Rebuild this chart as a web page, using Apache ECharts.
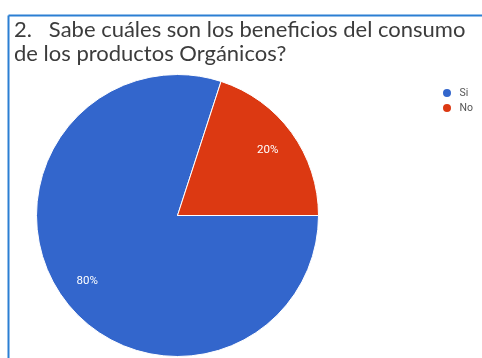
<!DOCTYPE html>
<html>
<head>
<meta charset="utf-8">
<script src="https://cdn.jsdelivr.net/npm/echarts@6/dist/echarts.min.js"></script>
<style>
  html, body { margin: 0; padding: 0; background: #fff; }
  #chart { width: 482px; height: 358px; }
</style>
</head>
<body>
<div id="chart"></div>
<script>
// Survey question and answers
const questionText = '2.   Sabe cuáles son los beneficios del consumo\nde los productos Orgánicos?';
const answers = ['Si', 'No'];
const shares = [80, 20];
const answerColors = ['#3366cc', '#dc3912'];

const pieData = answers.map((name, i) => ({
  name,
  value: shares[i],
  itemStyle: { color: answerColors[i] }
}));

const chart = echarts.init(document.getElementById('chart'), null, { renderer: 'canvas' });

const cx = 177.5, cy = 215.5, r = 141;

chart.setOption({
  animation: false,
  backgroundColor: '#ffffff',
  title: {
    text: questionText,
    left: 9,
    top: 13,
    textStyle: {
      fontFamily: 'Lato',
      fontSize: 22,
      fontWeight: 'normal',
      color: '#3c3c3c',
      lineHeight: 24
    }
  },
  legend: {
    orient: 'vertical',
    left: 436,
    top: 82,
    icon: 'circle',
    itemWidth: 11,
    itemHeight: 10,
    itemGap: 3,
    data: answers,
    textStyle: { fontFamily: 'Roboto', fontSize: 10.5, color: '#555555', padding: [0, 0, 0, 2] }
  },
  graphic: [
    { type: 'line', shape: { x1: 8.5, y1: 15.5, x2: 482, y2: 15.5 }, style: { stroke: '#2b7fd3', lineWidth: 2 } },
    { type: 'line', shape: { x1: 8.5, y1: 15.5, x2: 8.5, y2: 358 }, style: { stroke: '#2b7fd3', lineWidth: 2 } }
  ],
  series: [
    {
      type: 'pie',
      center: [cx, cy],
      radius: [0, r],
      startAngle: 0,
      clockwise: true,
      label: { show: false },
      labelLine: { show: false },
      itemStyle: { borderColor: '#ffffff', borderWidth: 1 },
      emphasis: { disabled: true },
      data: pieData
    },
    {
      // transparent ring used only to place the percentage labels further out
      type: 'pie',
      center: [cx, cy],
      radius: [r * 0.54, r],
      startAngle: 0,
      clockwise: true,
      silent: true,
      legendHoverLink: false,
      itemStyle: { color: 'rgba(0,0,0,0)', borderWidth: 0 },
      label: {
        show: true,
        position: 'inside',
        formatter: p => p.value + '%',
        color: '#ffffff',
        fontFamily: 'Roboto',
        fontSize: 11.5
      },
      labelLine: { show: false },
      emphasis: { disabled: true },
      data: answers.map((name, i) => ({ name: name + ' ', value: shares[i] }))
    }
  ]
});
</script>
</body>
</html>
